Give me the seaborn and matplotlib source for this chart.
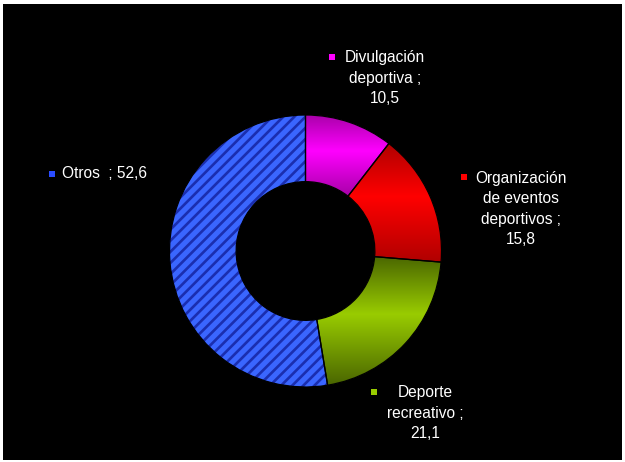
import numpy as np
import matplotlib
matplotlib.use("Agg")
import matplotlib.pyplot as plt
from matplotlib.colors import LinearSegmentedColormap
from matplotlib.patches import Rectangle
import seaborn as sns

# ---- data ----
categories = ["Divulgación\ndeportiva", "Organización\nde eventos\ndeportivos",
              "Deporte\nrecreativo", "Otros "]
values = [10.5, 15.8, 21.1, 52.6]
separators = [" ;\n", " ;\n", " ;\n", " ; "]

# ---- styles / layout ----
bright = ["#ff00ff", "#ff0000", "#99cc00", "#3a66ff"]
dark = ["#a800a8", "#b00000", "#4a6600", "#1a2eb0"]
marker_cols = ["#ff00ff", "#ff0000", "#99cc00", "#2a4cff"]
label_xy = [(385, 78), (521, 209), (425, 413), (105, 173)]   # pixel centres
marker_xy = [(332, 57), (464, 177), (374, 392), (52, 174)]
W, H = 625, 462
cx, cy, R = 305.5, 251, 136

sns.set_theme(style="white")
plt.rcParams["font.family"] = ["Liberation Sans", "DejaVu Sans"]
plt.rcParams["hatch.linewidth"] = 1.9

fig = plt.figure(figsize=(W / 100, H / 100), dpi=100, facecolor="white")
ax = fig.add_axes([0, 0, 1, 1])
ax.set_facecolor("none")
fig.patches.append(Rectangle((3 / W, 2 / H), 619 / W, 456 / H, transform=fig.transFigure,
                             facecolor="black", edgecolor="none", zorder=-5))

wedges, _ = ax.pie(values, colors=bright, startangle=90, counterclock=False,
                   center=(cx, H - cy), radius=R,
                   wedgeprops=dict(width=R * 0.49, linewidth=0))
ax.set_xlim(0, W)
ax.set_ylim(0, H)
ax.set_aspect("equal")
ax.axis("off")

# gradients for the first three wedges
for w, b, d in zip(wedges[:3], bright[:3], dark[:3]):
    cmap = LinearSegmentedColormap.from_list("g", [(0, d), (0.45, b), (1, d)])
    ext = w.get_path().get_extents()
    grad = np.linspace(0, 1, 256).reshape(-1, 1)
    im = ax.imshow(grad, cmap=cmap, aspect="auto", origin="upper",
                   extent=(ext.x0, ext.x1, ext.y0, ext.y1), zorder=2)
    im.set_clip_path(w)

# striped blue wedge
wedges[3].set_hatch("///")
wedges[3].set_edgecolor(dark[3])
wedges[3].set_linewidth(0)
wedges[3].set_zorder(2)

# thin black separators
edge_w, _ = ax.pie(values, colors=["none"] * 4, startangle=90, counterclock=False,
                   center=(cx, H - cy), radius=R,
                   wedgeprops=dict(width=R * 0.49, linewidth=0.9, edgecolor="black"))
for e in edge_w:
    e.set_zorder(3)
ax.set_xlim(0, W)
ax.set_ylim(0, H)
ax.set_aspect("equal")
ax.axis("off")

for cat, val, sep, (lx, ly), (mx, my), mc in zip(categories, values, separators,
                                                  label_xy, marker_xy, marker_cols):
    txt = f"{cat}{sep}{val:.1f}".replace(".", ",")
    ax.text(lx, H - ly, txt, color="white", fontsize=11.2, ha="center", va="center",
            multialignment="center", linespacing=1.42, zorder=5)
    ax.plot([mx], [H - my], marker="s", markersize=3.8, color=mc,
            markeredgewidth=0, zorder=5)

fig.savefig("out.png", dpi=100, facecolor="white")
